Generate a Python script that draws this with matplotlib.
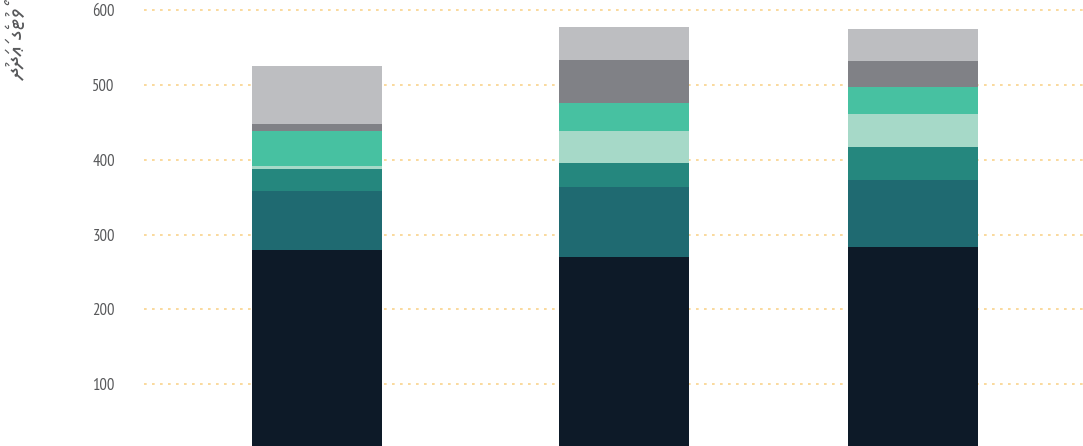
import matplotlib
matplotlib.use("Agg")
import matplotlib.pyplot as plt
import numpy as np

# bar positions (uneven spacing as in the source) and stacked segment values
positions = [0.0, 1.0, 1.94]
seg_navy = [279, 270, 283]
seg_darkteal = [79, 94, 90]
seg_teal = [30, 32, 44]
seg_mint = [4, 43, 44]
seg_green = [47, 37, 36]
seg_darkgray = [9, 58, 36]
seg_lightgray = [77, 44, 42]

yticks = [100, 200, 300, 400, 500, 600]
ylabel = "ވޯޓުގެ ޢަދަދު"

segments = [seg_navy, seg_darkteal, seg_teal, seg_mint,
            seg_green, seg_darkgray, seg_lightgray]
colors = ["#0d1a28", "#1f6a71", "#25877e", "#a6d9c8",
          "#47c1a1", "#808186", "#bdbec1"]


def rtl(text):
    # reverse Thaana text by letter+fili clusters for left-to-right drawing
    clusters = []
    for ch in text:
        if clusters and 0x07A6 <= ord(ch) <= 0x07B0:
            clusters[-1] += ch
        else:
            clusters.append(ch)
    return "".join(reversed(clusters))


fig = plt.figure(figsize=(10.83, 4.46), dpi=100)
ax = fig.add_axes([144 / 1083, 0.0, 1 - 144 / 1083, 1.0])

bottom = np.zeros(len(positions))
for vals, col in zip(segments, colors):
    ax.bar(positions, vals, bottom=bottom, width=0.4235, color=col,
           linewidth=0, zorder=2)
    bottom += np.array(vals)

for t in yticks:
    ax.axhline(t, color="#f9d38c", lw=1.2, linestyle=(0, (1.6, 3.2)),
               zorder=1)

ax.set_ylim(17, 614)
ax.set_xlim(-0.5635, 2.495)
ax.set_yticks(yticks)
ax.set_xticks([])
ax.tick_params(axis="y", length=0, pad=21, labelsize=12,
               labelcolor="#58595b")
for lbl in ax.get_yticklabels():
    lbl.set_family(["PT Sans Narrow", "DejaVu Sans"])
for s in ax.spines.values():
    s.set_visible(False)

fig.text(19 / 1083, 1 - 8 / 446, rtl(ylabel), rotation=90, ha="center",
         va="top", fontsize=17, color="#58595b",
         family=["Noto Sans Thaana", "DejaVu Sans"])

fig.savefig("out.png", dpi=100)
